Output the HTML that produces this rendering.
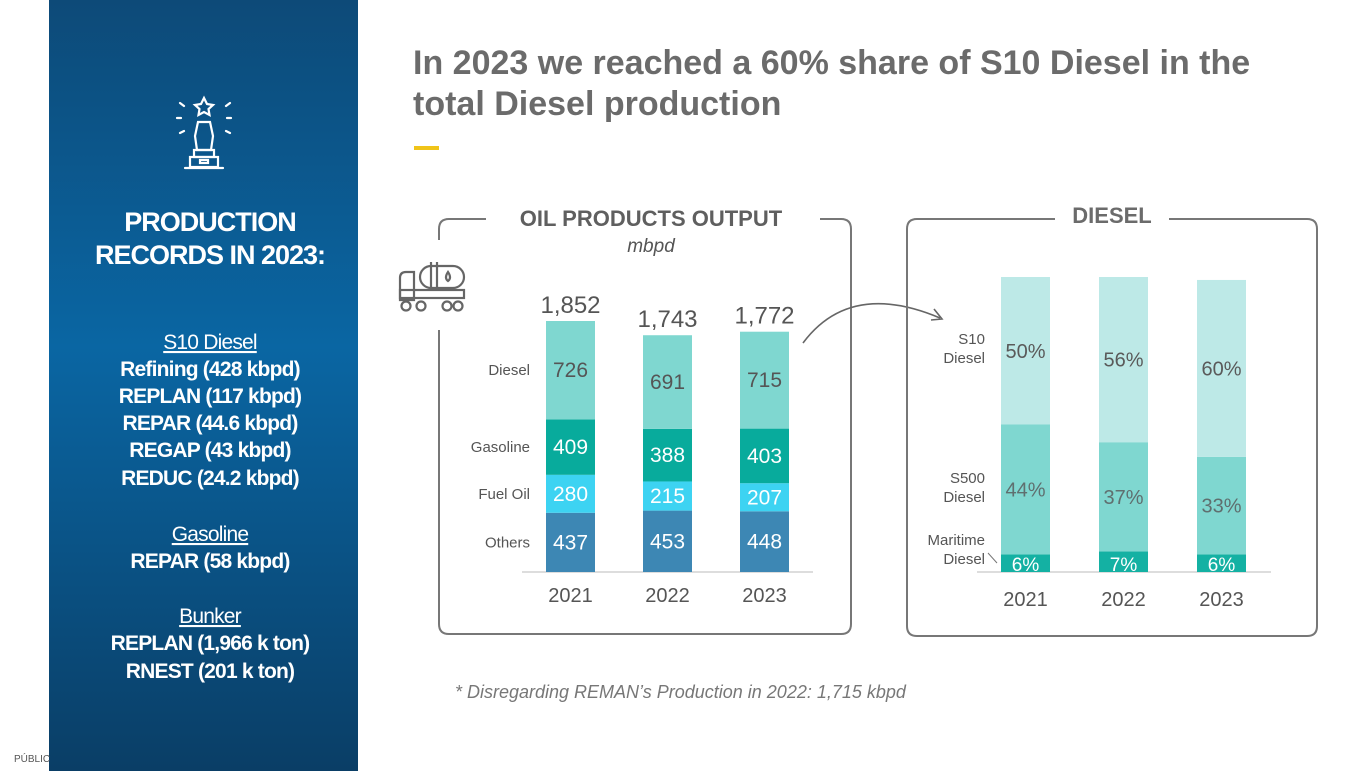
<!DOCTYPE html>
<html><head><meta charset="utf-8"><style>
html,body{margin:0;padding:0;width:1370px;height:771px;background:#fff;overflow:hidden;font-family:"Liberation Sans",sans-serif}
svg text{font-family:"Liberation Sans",sans-serif}
</style></head><body>
<svg id="s" width="1370" height="771" viewBox="0 0 1370 771" xmlns="http://www.w3.org/2000/svg">
<defs>
<linearGradient id="lg" x1="0" y1="0" x2="0" y2="1">
<stop offset="0" stop-color="#0d4a78"/><stop offset="0.45" stop-color="#0a66a3"/><stop offset="1" stop-color="#0a3e66"/>
</linearGradient>
</defs>
<rect x="49" y="0" width="309" height="771" fill="url(#lg)"/>
<g stroke="#fff" stroke-width="2.2" fill="none" stroke-linecap="round">
<path d="M204 98 l3 6 6 1 -4.5 4 1 6 -5.5 -3 -5.5 3 1 -6 -4.5 -4 6 -1z"/>
<path d="M198 122 h12 l3 14 -2 14 h-14 l-2 -14z"/>
<rect x="194" y="150" width="20" height="7"/><rect x="190" y="157" width="28" height="10"/><rect x="200" y="160" width="8" height="3"/>
<path d="M185 168 h38"/><path d="M180 103 l4 3 M230 103 l-4 3 M177 118 h4 M227 118 h4 M180 133 l4 -2 M230 133 l-4 -2"/>
</g>
<g fill="#fff" font-weight="bold" text-anchor="middle" font-size="27" letter-spacing="-1">
<text x="210" y="231">PRODUCTION</text><text x="210" y="264">RECORDS IN 2023:</text>
</g>
<g fill="#fff" text-anchor="middle" font-size="21" letter-spacing="-0.8">
<text x="210" y="349" text-decoration="underline">S10 Diesel</text>
<text x="210" y="376" font-weight="bold">Refining (428 kbpd)</text>
<text x="210" y="403" font-weight="bold">REPLAN (117 kbpd)</text>
<text x="210" y="430" font-weight="bold">REPAR (44.6 kbpd)</text>
<text x="210" y="457" font-weight="bold">REGAP (43 kbpd)</text>
<text x="210" y="485" font-weight="bold">REDUC (24.2 kbpd)</text>
<text x="210" y="541" text-decoration="underline">Gasoline</text>
<text x="210" y="568" font-weight="bold">REPAR (58 kbpd)</text>
<text x="210" y="623" text-decoration="underline">Bunker</text>
<text x="210" y="650" font-weight="bold">REPLAN (1,966 k ton)</text>
<text x="210" y="678" font-weight="bold">RNEST (201 k ton)</text>
</g>
<text x="14" y="762" font-size="10" fill="#555">PÚBLIC</text>
<g fill="#6b6b6b" font-weight="bold" font-size="34">
<text x="413" y="74">In 2023 we reached a 60% share of S10 Diesel in the</text>
<text x="413" y="115">total Diesel production</text>
</g>
<rect x="414" y="146" width="25" height="4" fill="#f0c419"/>
<path d="M486 219 H449 Q439 219 439 229 V624 Q439 634 449 634 H841 Q851 634 851 624 V229 Q851 219 841 219 H820" fill="none" stroke="#777" stroke-width="2"/>
<rect x="432" y="240" width="15" height="90" fill="#fff"/>
<text x="651" y="226" text-anchor="middle" font-size="22" font-weight="bold" fill="#5f5f5f">OIL PRODUCTS OUTPUT</text>
<text x="651" y="252" text-anchor="middle" font-size="19" font-style="italic" fill="#555">mbpd</text>
<g stroke="#666" stroke-width="2.2" fill="none">
<path d="M400 300 V278 Q400 272 406 272 H414 V300 Z"/><rect x="400" y="290" width="64" height="8"/>
<rect x="420" y="266" width="44" height="22" rx="11"/><path d="M431 262 v26 M437 262 v26"/>
<circle cx="406" cy="306" r="4.5"/><circle cx="421" cy="306" r="4.5"/><circle cx="447" cy="306" r="4.5"/><circle cx="458" cy="306" r="4.5"/>
<path d="M448 272 q-4 6 0 9 q4 -3 0 -9z"/>
</g>
<path d="M803 343 Q850 280 940 318" fill="none" stroke="#666" stroke-width="1.6"/>
<path d="M934 309 L942 319 L931 320" fill="none" stroke="#666" stroke-width="1.6"/>
<path d="M1055 219 H917 Q907 219 907 229 V626 Q907 636 917 636 H1307 Q1317 636 1317 626 V229 Q1317 219 1307 219 H1169" fill="none" stroke="#777" stroke-width="2"/>
<text x="1112" y="223" text-anchor="middle" font-size="22" font-weight="bold" fill="#6b6b6b">DIESEL</text>
<text x="455" y="698" font-size="18" font-style="italic" fill="#777">* Disregarding REMAN’s Production in 2022: 1,715 kbpd</text>
<g id="oil"></g><g id="dsl"></g>
</svg>
<script>
const years = ["2021","2022","2023"];
const others = [437,453,448];
const fuelOil = [280,215,207];
const gasoline = [409,388,403];
const diesel = [726,691,715];
const totals = ["1,852","1,743","1,772"];
const oilSeriesNames = ["Others","Fuel Oil","Gasoline","Diesel"];
const maritime = [6,7,6];
const s500 = [44,37,33];
const s10 = [50,56,60];
const dieselSeriesNames = ["Maritime Diesel","S500 Diesel","S10 Diesel"];

const NS="http://www.w3.org/2000/svg";
function mk(tag,attrs,parent,txt){const e=document.createElementNS(NS,tag);for(const k in attrs)e.setAttribute(k,attrs[k]);if(txt!==undefined)e.textContent=txt;parent.appendChild(e);return e;}

// Oil chart
const oil=document.getElementById('oil');
const oBase=572, oScale=251/1852;
const oX=i=>546+i*97, oW=49;
const oY=v=>oBase-v*oScale;
const oilSeries=[others,fuelOil,gasoline,diesel];
const oilColors=["#3d87b4","#3dd3f2","#08ab9c","#7fd7d0"];
const oilText=["#fff","#fff","#fff","#555"];
mk('line',{x1:522,y1:oBase,x2:813,y2:oBase,stroke:'#bbb','stroke-width':1},oil);
years.forEach((y,i)=>{
  let cum=0;
  oilSeries.forEach((s,k)=>{
    const y0=oY(cum), y1=oY(cum+s[i]);
    const r=mk('rect',{x:oX(i),y:y1,width:oW,height:y0-y1,fill:oilColors[k]},oil);
    
    
    const t=mk('text',{x:oX(i)+oW/2,y:(y0+y1)/2+7,'text-anchor':'middle','font-size':21,fill:oilText[k]},oil,s[i]);
    
    
    cum+=s[i];
  });
  const tt=mk('text',{x:oX(i)+oW/2,y:oY(cum)-8,'text-anchor':'middle','font-size':24,fill:'#555'},oil,totals[i]);
  
  
  const xl=mk('text',{x:oX(i)+oW/2,y:602,'text-anchor':'middle','font-size':20,fill:'#555'},oil,y);
  
  
});
// legend labels at 2021 segment midpoints
{let cum=0;oilSeries.forEach((s,k)=>{const m=(oY(cum)+oY(cum+s[0]))/2;
  const l=mk('text',{x:530,y:m+5,'text-anchor':'end','font-size':15,fill:'#555'},oil,oilSeriesNames[k]);
  
  
  cum+=s[0];});}

// Diesel chart
const dsl=document.getElementById('dsl');
const dBase=572, dScale=295/100;
const dX=i=>1001+i*98, dW=49;
const dY=v=>dBase-v*dScale;
const dSeries=[maritime,s500,s10];
const dColors=["#14b1a3","#7fd7d0","#bde9e7"];
const dText=["#fff","#5f6f6f","#5a5a5a"];
mk('line',{x1:977,y1:dBase,x2:1271,y2:dBase,stroke:'#bbb','stroke-width':1},dsl);
years.forEach((y,i)=>{
  let cum=0;
  dSeries.forEach((s,k)=>{
    const y0=dY(cum), y1=dY(cum+s[i]);
    const r=mk('rect',{x:dX(i),y:y1,width:dW,height:y0-y1,fill:dColors[k]},dsl);
    
    
    const t=mk('text',{x:dX(i)+dW/2,y:k===0?y0-1:(y0+y1)/2+7,'text-anchor':'middle','font-size':k===0?19:20,fill:dText[k]},dsl,s[i]+'%');
    
    
    cum+=s[i];
  });
  const xl=mk('text',{x:dX(i)+dW/2,y:606,'text-anchor':'middle','font-size':20,fill:'#555'},dsl,y);
  
  
});
[["S10","Diesel",344],["S500","Diesel",483],["Maritime","Diesel",545]].forEach(([a,b,yy])=>{
  const g=mk('text',{'text-anchor':'end','font-size':15,fill:'#555'},dsl);
  
  
  mk('tspan',{x:985,y:yy},g,a);mk('tspan',{x:985,y:yy+19},g,b);
});
mk('line',{x1:988,y1:553,x2:997,y2:563,stroke:'#777','stroke-width':1},dsl);
</script>
</body></html>
